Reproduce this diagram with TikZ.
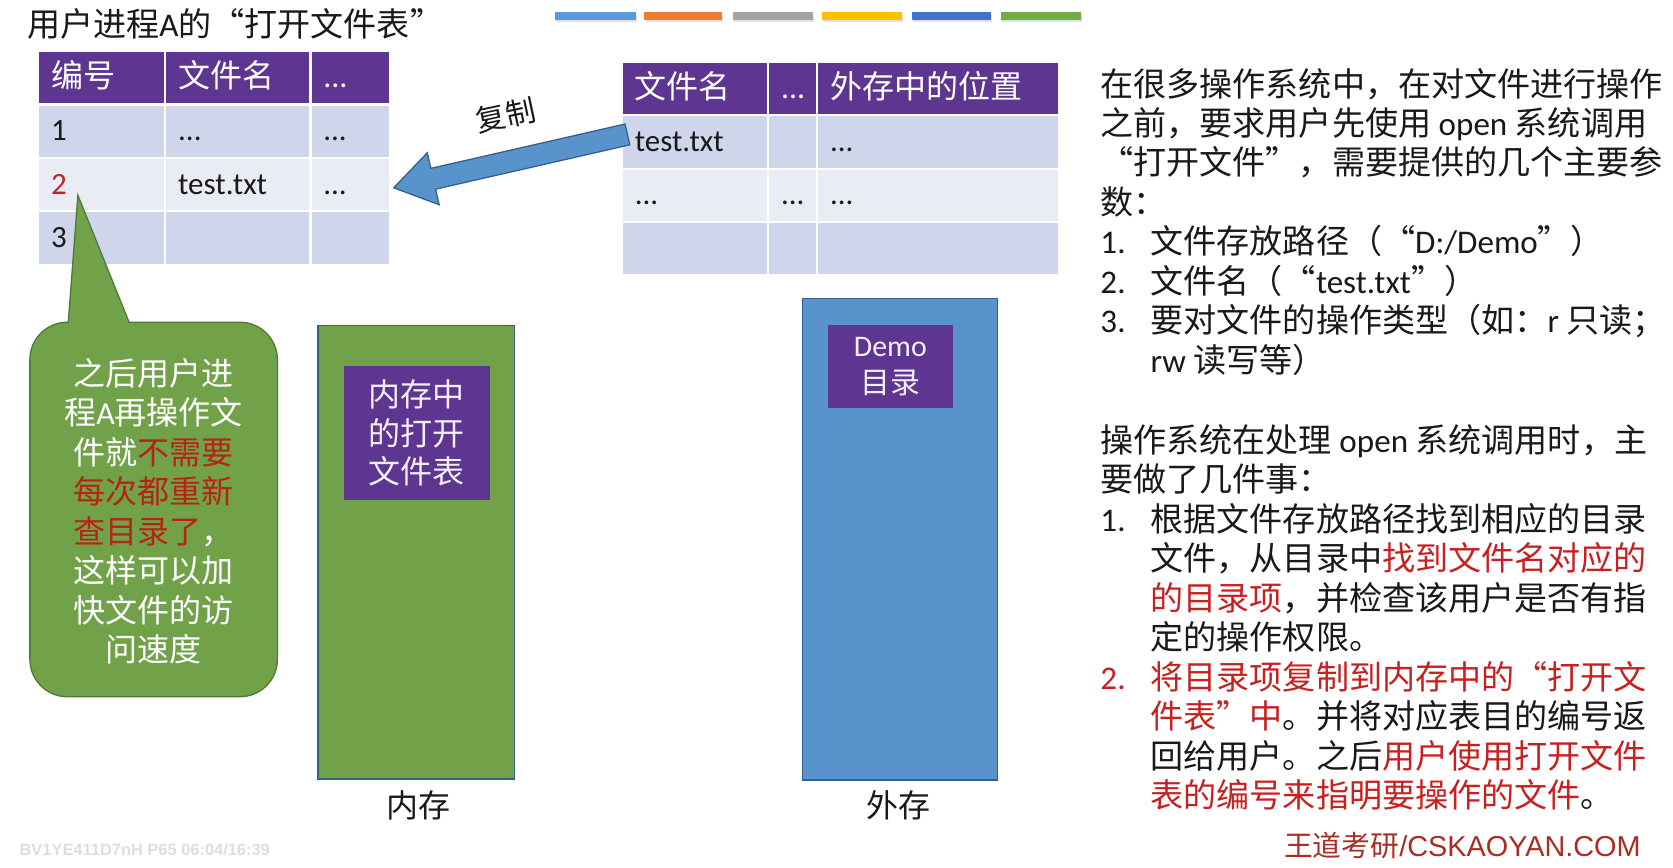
\documentclass[tikz,border=0pt]{standalone}
\usepackage{fontspec}
\usetikzlibrary{calc}
\setmainfont{Carlito}
\newfontfamily\latfam{Carlito}
\newfontfamily\cjkfam{Noto Sans CJK SC}
\newfontfamily\cjkqfam[RawFeature=+fwid]{Noto Sans CJK SC}
\newfontfamily\arialfam{Liberation Sans}
\def\latinsw{\latfam}
\XeTeXinterchartokenstate=1
\newXeTeXintercharclass\cjkcls
\newXeTeXintercharclass\cjkqcls
\newcount\cjkc
\cjkc="4E00
\loop\XeTeXcharclass\cjkc=\cjkcls \ifnum\cjkc<"9FFF \advance\cjkc by 1 \repeat
\cjkc="3000
\loop\XeTeXcharclass\cjkc=\cjkcls \ifnum\cjkc<"303F \advance\cjkc by 1 \repeat
\cjkc="FF00
\loop\XeTeXcharclass\cjkc=\cjkcls \ifnum\cjkc<"FFEF \advance\cjkc by 1 \repeat
\XeTeXcharclass"201C=\cjkqcls
\XeTeXcharclass"201D=\cjkqcls
\XeTeXinterchartoks 0 \cjkcls={\cjkfam}
\XeTeXinterchartoks 4095 \cjkcls={\cjkfam}
\XeTeXinterchartoks \cjkcls 0={\latinsw}
\XeTeXinterchartoks \cjkcls 4095={\latinsw}
\XeTeXinterchartoks 0 \cjkqcls={\cjkqfam}
\XeTeXinterchartoks 4095 \cjkqcls={\cjkqfam}
\XeTeXinterchartoks \cjkcls \cjkqcls={\cjkqfam}
\XeTeXinterchartoks \cjkqcls \cjkcls={\cjkfam}
\XeTeXinterchartoks \cjkqcls 0={\latinsw}
\XeTeXinterchartoks \cjkqcls 4095={\latinsw}

\definecolor{hdr}{RGB}{94,54,145}
\definecolor{rowa}{RGB}{207,213,234}
\definecolor{rowb}{RGB}{233,235,245}
\definecolor{grn}{RGB}{113,161,72}
\definecolor{grnd}{RGB}{80,120,55}
\definecolor{blu}{RGB}{89,147,204}
\definecolor{blud}{RGB}{55,95,140}
\definecolor{cred}{RGB}{200,32,32}
\definecolor{kred}{RGB}{185,35,20}
\definecolor{fred}{RGB}{170,45,35}
\definecolor{txt}{RGB}{25,25,25}
\definecolor{lav}{RGB}{242,238,250}
\definecolor{barA}{RGB}{91,155,213}
\definecolor{barB}{RGB}{237,125,49}
\definecolor{barC}{RGB}{165,165,165}
\definecolor{barD}{RGB}{255,192,0}
\definecolor{barE}{RGB}{68,114,196}
\definecolor{barF}{RGB}{112,173,71}

\tikzset{
  cell/.style={inner xsep=6pt, inner ysep=0pt, minimum height=25pt, draw=white,
    line width=1pt, align=left, text height=12pt, text depth=3pt},
  hcell/.style={cell, fill=hdr, text=white, font=\fontsize{15pt}{18pt}\selectfont},
  acell/.style={cell, fill=rowa, text=txt, font=\fontsize{14.5pt}{17pt}\selectfont},
  bcell/.style={cell, fill=rowb, text=txt, font=\fontsize{14.5pt}{17pt}\selectfont},
  rt/.style={anchor=base west, inner sep=0pt, text=txt, font=\fontsize{15.5pt}{18pt}\selectfont},
  storebox/.style={inner sep=0pt, line width=0.6pt},
  tabbox/.style={inner sep=0pt, fill=hdr, text=lav, align=center},
  lbl/.style={inner sep=0pt, text=txt, font=\fontsize{15pt}{18pt}\selectfont},
}

\begin{document}
\begin{tikzpicture}[x=0.5pt,y=-0.5pt]
\useasboundingbox[fill=white] (0,0) rectangle (1568,813);

% title
\node[anchor=west, inner sep=0pt, text=txt, font=\fontsize{15.5pt}{18pt}\selectfont] (title) at (25,22) {用户进程A的“打开文件表”};

% colour bars
\foreach \xa/\xb/\c in {520/596/barA, 604/677/barB, 687/762/barC, 770/845/barD, 855/929/barE, 938/1013/barF}{
  \fill[black, opacity=0.12] (\xa+1,14) rectangle (\xb+1,20.5);
  \fill[\c] (\xa,11.5) rectangle (\xb,18.5);
}

% left table
\node[hcell, text width=47.5pt] (lh1) at (95.5,73) {编号};
\node[hcell, text width=56pt] (lh2) at (223,73) {文件名};
\node[hcell, text width=25.5pt] (lh3) at (328.5,73) {...};
\node[acell, text width=47.5pt] (l11) at (95.5,123) {1};
\node[acell, text width=56pt] (l12) at (223,123) {...};
\node[acell, text width=25.5pt] (l13) at (328.5,123) {...};
\node[bcell, text width=47.5pt] (l21) at (95.5,173) {\textcolor{cred}{2}};
\node[bcell, text width=56pt] (l22) at (223,173) {test.txt};
\node[bcell, text width=25.5pt] (l23) at (328.5,173) {...};
\node[acell, text width=47.5pt] (l31) at (95.5,223) {3};
\node[acell, text width=56pt] (l32) at (223,223) {};
\node[acell, text width=25.5pt] (l33) at (328.5,223) {};

% right table
\node[hcell, text width=56.5pt] (rh1) at (651.5,83) {文件名};
\node[hcell, text width=11pt, align=center] (rh2) at (743,83) {...};
\node[hcell, text width=101.5pt] (rh3) at (879.5,83) {外存中的位置};
\node[acell, text width=56.5pt] (r11) at (651.5,133) {test.txt};
\node[acell, text width=11pt, align=center] (r12) at (743,133) {};
\node[acell, text width=101.5pt] (r13) at (879.5,133) {...};
\node[bcell, text width=56.5pt] (r21) at (651.5,183) {...};
\node[bcell, text width=11pt, align=center] (r22) at (743,183) {...};
\node[bcell, text width=101.5pt] (r23) at (879.5,183) {...};
\node[acell, text width=56.5pt] (r31) at (651.5,233) {};
\node[acell, text width=11pt, align=center] (r32) at (743,233) {};
\node[acell, text width=101.5pt] (r33) at (879.5,233) {};

% copy arrow
\coordinate (atip) at ($(l23.east)+(2,3)$);
\coordinate (atail) at ($(r11.west)+(6,-7)$);
\coordinate (ahead) at ($(atip)!19pt!(atail)$);
\draw[fill=blu, draw=blud, line width=0.6pt]
  ($(atail)!5pt!90:(atip)$) -- ($(ahead)!5pt!90:(atip)$) -- ($(ahead)!12.5pt!90:(atip)$)
  -- (atip) -- ($(ahead)!12.5pt!-90:(atip)$) -- ($(ahead)!5pt!-90:(atip)$)
  -- ($(atail)!5pt!-90:(atip)$) -- cycle;
\node[inner sep=0pt, rotate=12, text=txt, font=\fontsize{14pt}{17pt}\selectfont] (copylbl) at (474,108) {复制};

% callout
\draw[fill=grn, draw=grnd, line width=0.6pt]
  (28,337) .. controls (28,317.7) and (43.7,302) .. (63,302) -- (64,302) -- (73,183)
  -- (121,302) -- (225,302) .. controls (244.3,302) and (260,317.7) .. (260,337)
  -- (260,618) .. controls (260,637.3) and (244.3,653) .. (225,653)
  -- (63,653) .. controls (43.7,653) and (28,637.3) .. (28,618) -- cycle;
\node[inner sep=0pt, align=center, text=white, font=\fontsize{15pt}{18.5pt}\selectfont] (cotext) at (144,479)
  {之后用户进\\程A再操作文\\件就\textcolor{kred}{不需要}\\\textcolor{kred}{每次都重新}\\\textcolor{kred}{查目录了}，\\这样可以加\\快文件的访\\问速度};

% memory
\node[storebox, fill=grn, draw=blud, minimum width=92pt, minimum height=212.5pt] (mem) at (390,517.5) {};
\node[tabbox, minimum width=68.5pt, minimum height=63pt, font=\fontsize{15pt}{18pt}\selectfont] (memtab) at (390.5,406) {内存中\\的打开\\文件表};
\node[lbl] (memlbl) at (392,755) {内存};

% external storage
\node[storebox, fill=blu, draw=blud, minimum width=91.5pt, minimum height=225.5pt] (ext) at (843.5,505.5) {};
\node[tabbox, minimum width=58.5pt, minimum height=38.5pt, font=\fontsize{14pt}{17.5pt}\selectfont] (demo) at (834.5,343.5) {Demo\\目录};
\node[lbl] (extlbl) at (842,755) {外存};

% right text
\node[rt] (p1) at (1031,90) {在很多操作系统中，在对文件进行操作};
\node[rt] (p2) at (1031,127) {之前，要求用户先使用 open 系统调用};
\node[rt] (p3) at (1031,164) {“打开文件”，需要提供的几个主要参};
\node[rt] (p4) at (1031,201) {数：};
\node[rt] (a1n) at (1031,238) {1.};
\node[rt] (a1) at (1078,238) {文件存放路径（“D:/Demo”）};
\node[rt] (a2n) at (1031,275) {2.};
\node[rt] (a2) at (1078,275) {文件名（“test.txt”）};
\node[rt] (a3n) at (1031,312) {3.};
\node[rt] (a3) at (1078,312) {要对文件的操作类型（如：r 只读；};
\node[rt] (a3b) at (1078,349) {rw 读写等）};
\node[rt] (q1) at (1031,424) {操作系统在处理 open 系统调用时，主};
\node[rt] (q2) at (1031,461) {要做了几件事：};
\node[rt] (b1n) at (1031,498) {1.};
\node[rt] (b1) at (1078,498) {根据文件存放路径找到相应的目录};
\node[rt] (b1b) at (1078,535) {文件，从目录中\textcolor{cred}{找到文件名对应的}};
\node[rt] (b1c) at (1078,572) {\textcolor{cred}{的目录项}，并检查该用户是否有指};
\node[rt] (b1d) at (1078,609) {定的操作权限。};
\node[rt, text=cred] (b2n) at (1031,646) {2.};
\node[rt, text=cred] (b2) at (1078,646) {将目录项复制到内存中的“打开文};
\node[rt] (b2b) at (1078,683) {\textcolor{cred}{件表”中}。并将对应表目的编号返};
\node[rt] (b2c) at (1078,720) {回给用户。之后\textcolor{cred}{用户使用打开文件}};
\node[rt] (b2d) at (1078,757) {\textcolor{cred}{表的编号来指明要操作的文件}。};

% footer
\node[anchor=base east, inner sep=0pt, text=fred, font=\fontsize{13.5pt}{16pt}\selectfont] (footer) at (1538,803) {\let\latinsw\arialfam 王道考研/CSKAOYAN.COM};
\node[anchor=base west, inner sep=0pt, text=black!13, font=\arialfam\bfseries\fontsize{7.7pt}{9pt}\selectfont] (wmark) at (18,802) {BV1YE411D7nH P65 06:04/16:39};
\end{tikzpicture}
\end{document}
